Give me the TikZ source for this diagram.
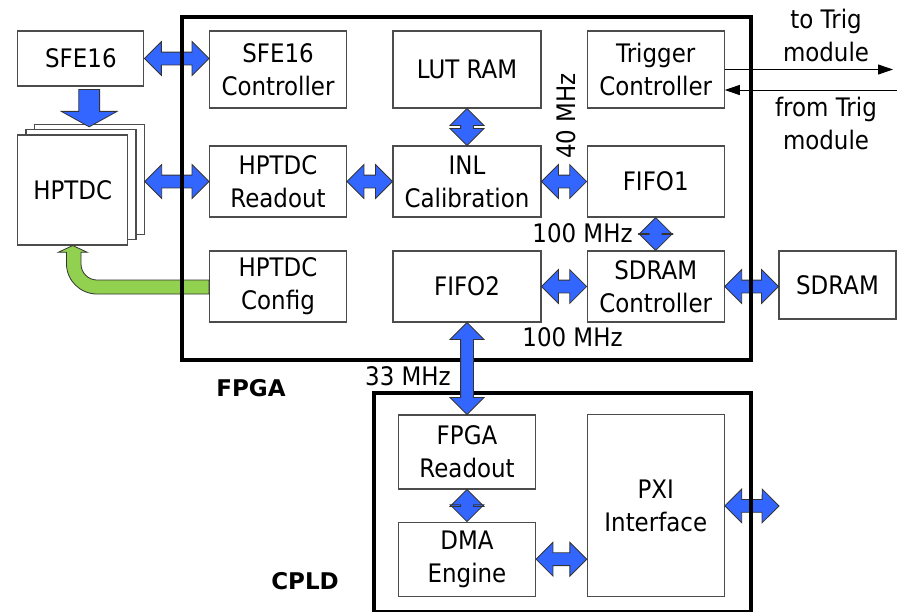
\documentclass[tikz,border=0pt]{standalone}
\usepackage{fontspec}
\setmainfont{DejaVu Sans}[FakeStretch=0.9]
\newfontfamily\tagfont{DejaVu Sans}
\usetikzlibrary{arrows.meta, calc, shapes.arrows}
\definecolor{busblue}{RGB}{51,102,255}
\definecolor{cfggreen}{RGB}{146,208,80}
\tikzset{>={Triangle[length=15pt, width=10pt]}}
\tikzset{
  blk/.style={draw=black!70, line width=1.1pt, fill=white, align=center, inner sep=0pt},
  bus/.style={double arrow, draw=black!80, line width=0.8pt, fill=busblue,
    inner xsep=0pt, inner ysep=6pt, double arrow head extend=10.5pt},
  fatbus/.style={single arrow, draw=black!80, line width=0.8pt, fill=busblue,
    inner xsep=0pt, inner ysep=10pt, single arrow head extend=17.5pt, single arrow tip angle=122},
  frame/.style={line width=4pt},
  tag/.style={font=\tagfont\bfseries\fontsize{23}{28}\selectfont},
}
% block arrow between two points, as long as the gap
\newcommand\busarrow[3][bus]{%
  \path let \p1=(#2), \p2=(#3), \n1={veclen(\x2-\x1,\y2-\y1)},
    \n2={atan2(\y2-\y1,\x2-\x1)} in
    node[#1, minimum height=\n1, rotate=\n2] at ($(#2)!.5!(#3)$) {};}

\begin{document}
\begin{tikzpicture}[x=1pt, y=-1pt, font=\fontsize{25.5}{33}\selectfont]
    \useasboundingbox (0,0) rectangle (897,611);

    % outside parts
    \node[blk, minimum width=126pt, minimum height=55pt] (sfe) at (80.9,58.5) {SFE16};
    \node[blk, minimum width=110pt, minimum height=110pt] (hp3) at (89.2,179.5) {};
    \node[blk, minimum width=110pt, minimum height=110pt] (hp2) at (81,184.8) {};
    \node[blk, minimum width=110pt, minimum height=110pt] (hp1) at (72.7,190) {HPTDC};
    \node[blk, minimum width=117pt, minimum height=68pt] (sdram) at (837.5,285) {SDRAM};

    % FPGA blocks
    \node[blk, minimum width=137pt, minimum height=77pt] (sfec) at (278,69.5) {SFE16\\Controller};
    \node[blk, minimum width=148pt, minimum height=77pt] (lut) at (467,69.5) {LUT RAM};
    \node[blk, minimum width=137pt, minimum height=77pt] (trig) at (655.7,69.5) {Trigger\\Controller};
    \node[blk, minimum width=137pt, minimum height=71pt] (hprd) at (278,181.5) {HPTDC\\Readout};
    \node[blk, minimum width=148pt, minimum height=71pt] (inl) at (467,181.5) {INL\\Calibration};
    \node[blk, minimum width=137pt, minimum height=71pt] (fifo1) at (655.7,181.5) {FIFO1};
    \node[blk, minimum width=137pt, minimum height=71pt] (cfg) at (278,286.5) {HPTDC\\Config};
    \node[blk, minimum width=148pt, minimum height=71pt] (fifo2) at (467,286.5) {FIFO2};
    \node[blk, minimum width=137pt, minimum height=71pt] (sdctl) at (655.7,286.5) {SDRAM\\Controller};

    % CPLD blocks
    \node[blk, minimum width=137pt, minimum height=74pt] (rd) at (467,452) {FPGA\\Readout};
    \node[blk, minimum width=137pt, minimum height=74pt] (dma) at (467,559.2) {DMA\\Engine};
    \node[blk, minimum width=137pt, minimum height=182pt] (pxi) at (655.8,505.8) {PXI\\Interface};

    \coordinate (pxiout) at (779,506);
    \coordinate (trigout) at (893,69.5);
    \coordinate (trigin) at (897,90);

    % links that cross the frames
    \busarrow[fatbus]{sfe.south -| hp3.north}{hp3.north}
    \busarrow{sfe.east}{sfe.east -| sfec.west}
    \busarrow{hprd.west -| hp3.east}{hprd.west}
    \busarrow{sdctl.east}{sdctl.east -| sdram.west}
    \busarrow{pxi.east}{pxiout}
    \draw[black!80, line width=0.8pt, fill=cfggreen]
      (cfg.west |- 0,280) -- (97,280) .. controls (88.2,280) and (81,272.8) .. (81,264)
      -- (81,252.3) -- (87.3,252.3) -- (hp1.south) -- (58.3,252.3) -- (66.5,252.3)
      -- (66.5,264) .. controls (66.5,280.6) and (80.4,294) .. (97,294)
      -- (cfg.west |- 0,294) -- cycle;

    \draw[frame] (181.7,17) rectangle (751,360);
    \draw[frame] (374,393) rectangle (751,612);

    % links inside
    \busarrow{hprd.east}{inl.west}
    \busarrow{lut.south}{inl.north}
    \busarrow{inl.east}{fifo1.west}
    \busarrow{fifo1.south}{sdctl.north}
    \busarrow{fifo2.east}{sdctl.west}
    \busarrow{rd.south}{dma.north}
    \busarrow{dma.east}{dma.east -| pxi.west}
    \busarrow{fifo2.south}{rd.north}

    \draw[->, line width=1pt] (trig.east) -- (trigout);
    \draw[->, line width=1pt] (trigin) -- (trigin -| trig.east);

    % labels
    \node[align=center] (totrig) at (826,35) {to Trig\\module};
    \node[align=center] (fromtrig) at (826,123) {from Trig\\module};
    \node[rotate=90] (f40) at (566,116) {40 MHz};
    \node (f100a) at (582.5,233) {100 MHz};
    \node (f100b) at (572.5,337) {100 MHz};
    \node (f33) at (408,376) {33 MHz};
    \node[tag] (fpga) at (251,388) {FPGA};
    \node[tag] (cpld) at (305,581) {CPLD};
\end{tikzpicture}
\end{document}
